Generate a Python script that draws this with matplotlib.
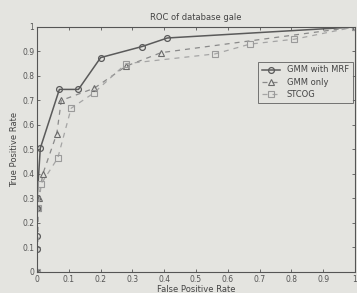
import matplotlib
matplotlib.use("Agg")
import matplotlib.pyplot as plt
import numpy as np

title = "ROC of database gale"
xlabel = "False Positive Rate"
ylabel = "True Positive Rate"

mrf_fpr = [0, 0, 0, 0, 0, 0.01, 0.07, 0.13, 0.20, 0.33, 0.41, 1.0]
mrf_tpr = [0, 0.095, 0.145, 0.26, 0.30, 0.505, 0.745, 0.745, 0.875, 0.92, 0.955, 1.0]

gmm_fpr = [0, 0.003, 0.005, 0.018, 0.062, 0.076, 0.18, 0.28, 0.39, 1.0]
gmm_tpr = [0, 0.26, 0.30, 0.40, 0.565, 0.70, 0.75, 0.84, 0.895, 1.0]

stcog_fpr = [0, 0.004, 0.013, 0.065, 0.107, 0.178, 0.28, 0.56, 0.67, 0.81, 1.0]
stcog_tpr = [0, 0.26, 0.36, 0.465, 0.668, 0.73, 0.85, 0.89, 0.93, 0.95, 1.0]

labels = ["GMM with MRF", "GMM only", "STCOG"]
ticks = [0, 0.1, 0.2, 0.3, 0.4, 0.5, 0.6, 0.7, 0.8, 0.9, 1]
ticklabels = ["0", "0.1", "0.2", "0.3", "0.4", "0.5", "0.6", "0.7", "0.8", "0.9", "1"]

bg = "#e4e4e0"
fig = plt.figure(figsize=(3.57, 2.93), dpi=100, facecolor=bg)
ax = fig.add_axes([0.104, 0.072, 0.890, 0.836], facecolor=bg)

ax.plot(mrf_fpr, mrf_tpr, '-', color="#5a5a5a", lw=1.1, marker='o', ms=4.2,
        mfc='none', mec="#5a5a5a", mew=0.9, label=labels[0])
ax.plot(gmm_fpr, gmm_tpr, '--', color="#8a8a8a", lw=0.9, marker='^', ms=4.2,
        mfc='none', mec="#6a6a6a", mew=0.8, label=labels[1], dashes=(4, 4))
ax.plot(stcog_fpr, stcog_tpr, '--', color="#a5a5a5", lw=0.9, marker='s', ms=3.8,
        mfc='none', mec="#9a9a9a", mew=0.8, label=labels[2], dashes=(4, 4))

ax.set_xlim(0, 1)
ax.set_ylim(0, 1)
ax.set_xticks(ticks)
ax.set_xticklabels(ticklabels)
ax.set_yticks(ticks)
ax.set_yticklabels(ticklabels)
ax.tick_params(direction='in', length=2.5, width=0.6, labelsize=5.5,
               colors="#555555", top=True, right=True, pad=2)
for s in ax.spines.values():
    s.set_color("#555555")
    s.set_linewidth(0.8)

ax.set_title(title, fontsize=6, color="#444444", pad=5)
ax.set_xlabel(xlabel, fontsize=6, color="#444444", labelpad=1)
ax.set_ylabel(ylabel, fontsize=6, color="#444444", labelpad=2)

leg = ax.legend(loc='upper right', bbox_to_anchor=(0.993, 0.858), fontsize=6,
                frameon=True, fancybox=False, edgecolor="#555555",
                facecolor=bg, handlelength=2.2, borderpad=0.45,
                labelspacing=0.4, borderaxespad=0)
leg.get_frame().set_linewidth(0.7)
for t in leg.get_texts():
    t.set_color("#444444")

fig.savefig("out.png", dpi=100, facecolor=bg)
